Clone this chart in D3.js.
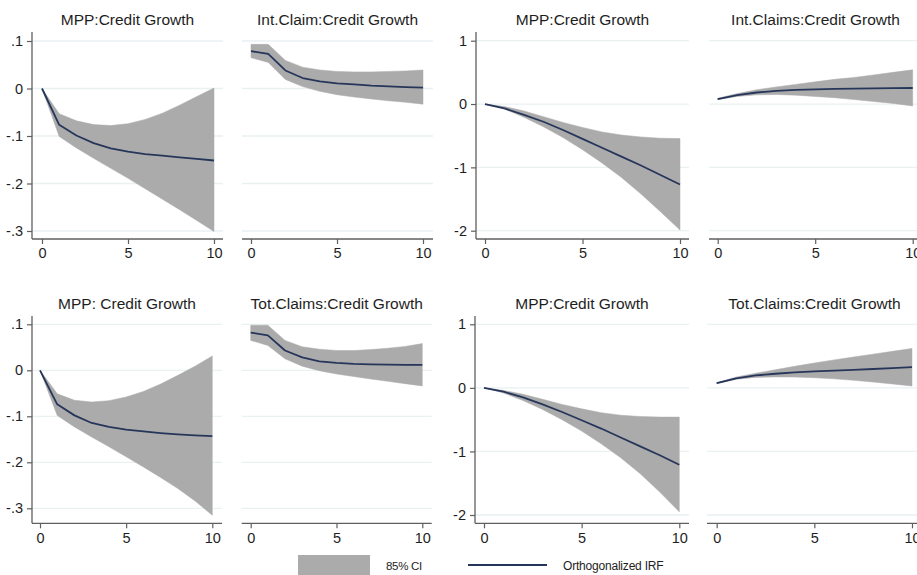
<!DOCTYPE html>
<html>
<head>
<meta charset="utf-8">
<script src="https://cdn.jsdelivr.net/npm/d3@7/dist/d3.min.js"></script>
<style>
  html, body { margin: 0; padding: 0; background: #ffffff; }
  svg { display: block; font-family: "Liberation Sans", Arial, Helvetica, sans-serif; }
</style>
</head>
<body>
<svg id="chart" width="917" height="575"></svg>
<script>
// Impulse-response horizons (steps)
const horizon = [0, 1, 2, 3, 4, 5, 6, 7, 8, 9, 10];

// Panel titles
const titles = [
  "MPP:Credit Growth", "Int.Claim:Credit Growth", "MPP:Credit Growth", "Int.Claims:Credit Growth",
  "MPP: Credit Growth", "Tot.Claims:Credit Growth", "MPP:Credit Growth", "Tot.Claims:Credit Growth"
];

// Axis tick values and labels
const xTicks = [0, 5, 10];
const yTicksSmall = [0.1, 0, -0.1, -0.2, -0.3];
const yLabelsSmall = [".1", "0", "-.1", "-.2", "-.3"];
const yTicksLarge = [1, 0, -1, -2];
const yLabelsLarge = ["1", "0", "-1", "-2"];

// Row 1, model A: MPP -> credit growth
const irfA1 = [0, -0.0765, -0.099, -0.115, -0.126, -0.133, -0.1380, -0.1415, -0.1450, -0.1483, -0.1516];
const loA1  = [0, -0.101, -0.125, -0.147, -0.168, -0.189, -0.211, -0.233, -0.255, -0.278, -0.301];
const hiA1  = [0, -0.053, -0.068, -0.076, -0.078, -0.074, -0.065, -0.052, -0.035, -0.017, 0.001];

// Row 1, model A: international claims -> credit growth
const irfA2 = [0.0785, 0.073, 0.038, 0.022, 0.015, 0.011, 0.0085, 0.006, 0.0045, 0.003, 0.002];
const loA2  = [0.065, 0.055, 0.019, 0.004, -0.006, -0.013, -0.018, -0.022, -0.026, -0.029, -0.033];
const hiA2  = [0.093, 0.093, 0.059, 0.045, 0.039, 0.036, 0.035, 0.035, 0.036, 0.037, 0.039];

// Row 1, model B: MPP -> credit growth
const irfA3 = [0, -0.07, -0.17, -0.28, -0.41, -0.55, -0.69, -0.83, -0.97, -1.12, -1.27];
const loA3  = [0, -0.08, -0.21, -0.36, -0.53, -0.72, -0.93, -1.16, -1.42, -1.70, -1.99];
const hiA3  = [0, -0.04, -0.11, -0.20, -0.29, -0.37, -0.44, -0.49, -0.52, -0.54, -0.545];

// Row 1, model B: international claims -> credit growth
const irfA4 = [0.079, 0.140, 0.182, 0.207, 0.222, 0.232, 0.238, 0.243, 0.247, 0.250, 0.253];
const loA4  = [0.07, 0.12, 0.145, 0.15, 0.14, 0.12, 0.10, 0.07, 0.04, 0.01, -0.03];
const hiA4  = [0.09, 0.165, 0.225, 0.27, 0.31, 0.35, 0.39, 0.42, 0.46, 0.50, 0.54];

// Row 2, model A: MPP -> credit growth
const irfB1 = [0, -0.0739, -0.098, -0.1145, -0.1232, -0.129, -0.1330, -0.1365, -0.1392, -0.1413, -0.143];
const loB1  = [0, -0.098, -0.123, -0.145, -0.166, -0.188, -0.210, -0.233, -0.257, -0.284, -0.315];
const hiB1  = [0, -0.051, -0.065, -0.069, -0.066, -0.058, -0.046, -0.030, -0.011, 0.009, 0.031];

// Row 2, model A: total claims -> credit growth
const irfB2 = [0.082, 0.076, 0.043, 0.028, 0.0196, 0.016, 0.0138, 0.013, 0.0123, 0.0118, 0.0116];
const loB2  = [0.065, 0.054, 0.025, 0.009, -0.001, -0.008, -0.0135, -0.019, -0.024, -0.029, -0.034];
const hiB2  = [0.098, 0.098, 0.065, 0.051, 0.046, 0.043, 0.043, 0.045, 0.048, 0.052, 0.058];

// Row 2, model B: MPP -> credit growth
const irfB3 = [0, -0.06, -0.15, -0.26, -0.38, -0.51, -0.64, -0.78, -0.92, -1.06, -1.21];
const loB3  = [0, -0.08, -0.20, -0.34, -0.50, -0.68, -0.88, -1.10, -1.35, -1.64, -1.95];
const hiB3  = [0, -0.04, -0.10, -0.18, -0.26, -0.33, -0.39, -0.43, -0.45, -0.46, -0.46];

// Row 2, model B: total claims -> credit growth
const irfB4 = [0.073, 0.150, 0.195, 0.222, 0.243, 0.260, 0.272, 0.284, 0.297, 0.311, 0.325];
const loB4  = [0.065, 0.135, 0.165, 0.172, 0.170, 0.160, 0.142, 0.120, 0.092, 0.062, 0.030];
const hiB4  = [0.08, 0.17, 0.23, 0.285, 0.34, 0.39, 0.44, 0.485, 0.53, 0.575, 0.62];

// Legend entries
const legendLabels = ["85% CI", "Orthogonalized IRF"];

// Styling
const BAND = "#ababab";
const LINE = "#26365a";
const GRID = "#e9f1f3";
const AXIS = "#5f5f5f";
const TEXT = "#1e1e1e";

// Panel geometry: plot box, pixel spots for x=0 / x=10 and for the first / last y tick
const panels = [
  { title: titles[0], irf: irfA1, lo: loA1, hi: hiA1, big: false, yAxis: true,
    left: 32, right: 223, bottom: 239, top: 32, x0: 42, x10: 214, yA: 41, yB: 231, titleY: 25 },
  { title: titles[1], irf: irfA2, lo: loA2, hi: hiA2, big: false, yAxis: false,
    left: 242, right: 433, bottom: 239, top: 32, x0: 251, x10: 423, yA: 41, yB: 231, titleY: 25 },
  { title: titles[2], irf: irfA3, lo: loA3, hi: hiA3, big: true, yAxis: true,
    left: 476, right: 689, bottom: 239, top: 32, x0: 485, x10: 680, yA: 40.7, yB: 230.7, titleY: 25 },
  { title: titles[3], irf: irfA4, lo: loA4, hi: hiA4, big: true, yAxis: false,
    left: 709, right: 922, bottom: 239, top: 32, x0: 717.7, x10: 912.7, yA: 40.7, yB: 230.7, titleY: 25 },
  { title: titles[4], irf: irfB1, lo: loB1, hi: hiB1, big: false, yAxis: true,
    left: 32, right: 222, bottom: 523.3, top: 316, x0: 40, x10: 212.3, yA: 324.3, yB: 508.3, titleY: 309 },
  { title: titles[5], irf: irfB2, lo: loB2, hi: hiB2, big: false, yAxis: false,
    left: 241.7, right: 431.7, bottom: 523.3, top: 316, x0: 250.7, x10: 422.3, yA: 324.3, yB: 508.3, titleY: 309 },
  { title: titles[6], irf: irfB3, lo: loB3, hi: hiB3, big: true, yAxis: true,
    left: 475, right: 689, bottom: 523.3, top: 316, x0: 484, x10: 679.3, yA: 324.3, yB: 515, titleY: 309 },
  { title: titles[7], irf: irfB4, lo: loB4, hi: hiB4, big: true, yAxis: false,
    left: 707, right: 922, bottom: 523.3, top: 316, x0: 716.7, x10: 912, yA: 324.3, yB: 515, titleY: 309 }
];

const svg = d3.select("#chart");

panels.forEach(p => {
  const g = svg.append("g");
  const yt = p.big ? yTicksLarge : yTicksSmall;
  const yl = p.big ? yLabelsLarge : yLabelsSmall;

  const x = d3.scaleLinear().domain([0, 10]).range([p.x0, p.x10]);
  const y = d3.scaleLinear().domain([yt[0], yt[yt.length - 1]]).range([p.yA, p.yB]);

  // horizontal gridlines
  g.selectAll("line.grid").data(yt).join("line")
    .attr("class", "grid")
    .attr("x1", p.left).attr("x2", p.right)
    .attr("y1", d => y(d)).attr("y2", d => y(d))
    .attr("stroke", GRID).attr("stroke-width", 1.3);

  // confidence band
  const area = d3.area()
    .x((d, i) => x(horizon[i]))
    .y0((d, i) => y(p.lo[i]))
    .y1((d, i) => y(p.hi[i]));
  g.append("path").datum(p.irf)
    .attr("d", area)
    .attr("fill", BAND).attr("stroke", BAND).attr("stroke-width", 0.5);

  // impulse response line
  const line = d3.line()
    .x((d, i) => x(horizon[i]))
    .y(d => y(d));
  g.append("path").datum(p.irf)
    .attr("d", line)
    .attr("fill", "none").attr("stroke", LINE).attr("stroke-width", 1.8)
    .attr("stroke-linejoin", "round");

  // x axis
  const xAxis = d3.axisBottom(x).tickValues(xTicks).tickSize(5).tickPadding(4).tickSizeOuter(0);
  const gx = g.append("g").attr("transform", `translate(0,${p.bottom})`).call(xAxis);
  gx.select(".domain").remove();
  gx.append("line").attr("x1", p.left).attr("x2", p.right).attr("y1", 0).attr("y2", 0)
    .attr("stroke", AXIS).attr("stroke-width", 1.3);
  gx.selectAll(".tick line").attr("stroke", AXIS).attr("stroke-width", 1.2);
  gx.selectAll(".tick text").attr("fill", TEXT).attr("font-size", 14.5)
    .attr("font-family", "Liberation Sans, Arial, sans-serif");

  // y axis
  if (p.yAxis) {
    const yAxis = d3.axisLeft(y).tickValues(yt).tickFormat((d, i) => yl[i])
      .tickSize(5).tickPadding(4).tickSizeOuter(0);
    const gy = g.append("g").attr("transform", `translate(${p.left},0)`).call(yAxis);
    gy.select(".domain").remove();
    gy.append("line").attr("x1", 0).attr("x2", 0).attr("y1", p.top).attr("y2", p.bottom)
      .attr("stroke", AXIS).attr("stroke-width", 1.3);
    gy.selectAll(".tick line").attr("stroke", AXIS).attr("stroke-width", 1.2);
    gy.selectAll(".tick text").attr("fill", TEXT).attr("font-size", 14.5)
      .attr("font-family", "Liberation Sans, Arial, sans-serif");
  }

  // panel title, centred over the plot box
  g.append("text")
    .attr("x", (p.left + p.right) / 2)
    .attr("y", p.titleY)
    .attr("text-anchor", "middle")
    .attr("font-size", 15.5)
    .attr("fill", TEXT)
    .text(p.title);
});

// legend
const lg = svg.append("g");
lg.append("rect").attr("x", 298).attr("y", 555).attr("width", 72).attr("height", 24).attr("fill", BAND);
lg.append("text").attr("x", 386).attr("y", 569.5).attr("font-size", 11.5)
  .attr("letter-spacing", "-0.3px").attr("fill", TEXT).text(legendLabels[0]);
lg.append("line").attr("x1", 468).attr("x2", 547).attr("y1", 565).attr("y2", 565)
  .attr("stroke", LINE).attr("stroke-width", 1.8);
lg.append("text").attr("x", 563).attr("y", 569.5).attr("font-size", 12)
  .attr("letter-spacing", "-0.2px").attr("fill", TEXT).text(legendLabels[1]);
</script>
</body>
</html>
